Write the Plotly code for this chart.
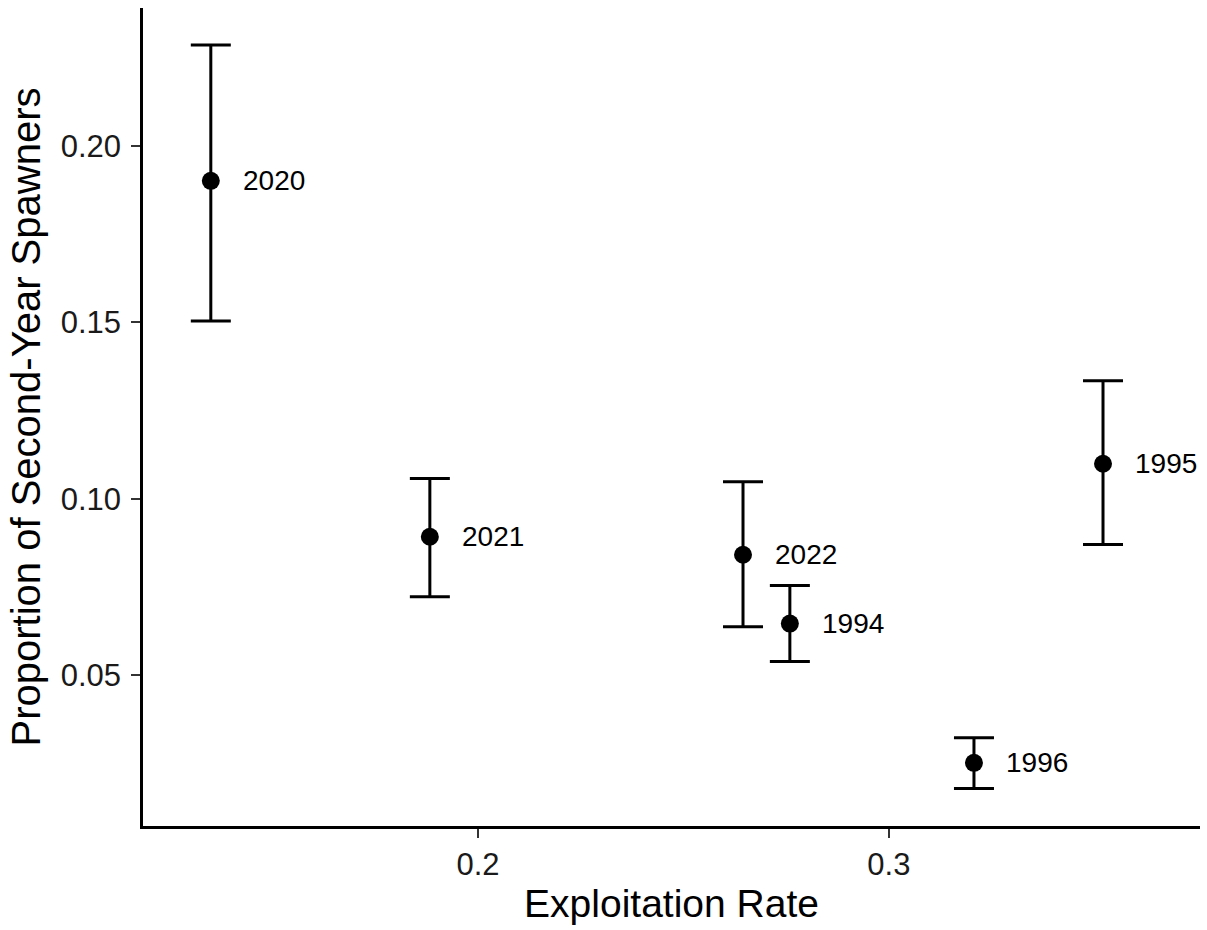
import plotly.graph_objects as go

years = ["2020", "2021", "2022", "1994", "1996", "1995"]
exploitation = [0.1350, 0.1883, 0.2645, 0.2759, 0.3207, 0.3521]
proportion = [0.1901, 0.0892, 0.0841, 0.0646, 0.0251, 0.1099]
upper = [0.2286, 0.1057, 0.1048, 0.0754, 0.0322, 0.1334]
lower = [0.1504, 0.0722, 0.0637, 0.0538, 0.0178, 0.0870]

err_plus = [u - p for u, p in zip(upper, proportion)]
err_minus = [p - l for p, l in zip(proportion, lower)]

FONT = "Liberation Sans, Arial, sans-serif"

fig = go.Figure()
fig.add_trace(go.Scatter(
    x=exploitation, y=proportion, mode="markers",
    marker=dict(color="black", size=18),
    error_y=dict(type="data", symmetric=False, array=err_plus, arrayminus=err_minus,
                 color="black", thickness=3, width=20),
    showlegend=False,
))
for xv, yv, t in zip(exploitation, proportion, years):
    fig.add_annotation(x=xv, y=yv, text=t, showarrow=False, xanchor="left",
                       xshift=30, font=dict(size=28, color="black", family=FONT))

fig.update_layout(
    width=1207, height=930,
    paper_bgcolor="white", plot_bgcolor="white",
    margin=dict(l=143, r=7, t=8, b=104),
    font=dict(family=FONT, color="black"),
)
fig.update_xaxes(
    range=[0.1185, 0.3757], tickvals=[0.2, 0.3], ticktext=["0.2", "0.3"],
    showgrid=False, zeroline=False, showline=True, linecolor="black", linewidth=2.5,
    ticks="outside", ticklen=9, tickwidth=2.2, tickcolor="#333333",
    tickfont=dict(size=31, color="#1a1a1a"),
    title=dict(text="Exploitation Rate", font=dict(size=39, color="black"), standoff=9),
)
fig.update_yaxes(
    range=[0.0072, 0.2391], tickvals=[0.05, 0.10, 0.15, 0.20],
    ticktext=["0.05", "0.10", "0.15", "0.20"],
    showgrid=False, zeroline=False, showline=True, linecolor="black", linewidth=2.5,
    ticks="outside", ticklen=9, tickwidth=2.2, tickcolor="#333333",
    tickfont=dict(size=31, color="#1a1a1a"), ticklabelstandoff=4,
    title=dict(text="Proportion of Second-Year Spawners", font=dict(size=40, color="black"), standoff=8),
)
fig.write_html("out.html")
